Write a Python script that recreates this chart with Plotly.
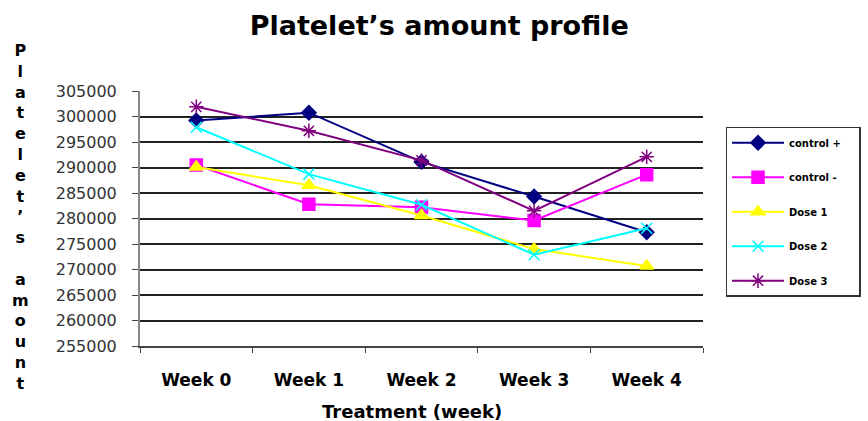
import plotly.graph_objects as go

categories = ["Week 0", "Week 1", "Week 2", "Week 3", "Week 4"]
control_pos = [299200, 300750, 291100, 284300, 277300]
control_neg = [290500, 282800, 282200, 279600, 288600]
dose1 = [290100, 286500, 280600, 274000, 270700]
dose2 = [297900, 288700, 282700, 272900, 278100]
dose3 = [301900, 297200, 291400, 281500, 292100]
y_ticks = list(range(255000, 305001, 5000))

series = [
    ("control +", control_pos, "#000080", "diamond", 11),
    ("control -", control_neg, "#FF00FF", "square", 12),
    ("Dose 1", dose1, "#FFFF00", "triangle-up", 12),
    ("Dose 2", dose2, "#00FFFF", "x-thin-open", 11),
    ("Dose 3", dose3, "#800080", "asterisk-open", 12),
]

BOLD = "DejaVu Sans"
PAD = "\u00a0" * 4

fig = go.Figure()
for i, (name, vals, color, sym, sz) in enumerate(series):
    fig.add_trace(go.Scatter(
        x=categories, y=vals, name="<b>" + name + "</b>" + PAD, mode="lines+markers",
        legendgroup=f"g{i}",
        line=dict(color=color, width=2),
        marker=dict(symbol=sym, size=sz, color=color,
                    line=dict(color=color, width=1.5)),
    ))

fig.update_layout(
    width=868, height=421,
    margin=dict(l=140, r=165, t=91, b=75, autoexpand=False),
    paper_bgcolor="white", plot_bgcolor="white",
    font=dict(family=BOLD, color="black"),
    title=dict(text="<b>Platelet’s amount profile</b>", x=0.506, xanchor="center",
               y=0.94, yanchor="middle", font=dict(size=27, family=BOLD)),
    showlegend=True,
    legend=dict(x=1.04, xanchor="left", y=0.86, yanchor="top",
                bordercolor="#333333", borderwidth=1.5,
                font=dict(size=10, family=BOLD), tracegroupgap=15.5,
                itemwidth=52),
    xaxis=dict(
        type="category", tickson="boundaries", ticks="outside", ticklen=5,
        tickcolor="#444444", showline=True, linecolor="#444444", linewidth=1.5,
        showgrid=False, tickfont=dict(size=17, family=BOLD, color="black"),
        tickprefix="<b>", ticksuffix="</b>", ticklabelstandoff=18,
        range=[-0.5, 4.5],
    ),
    yaxis=dict(
        range=[255000, 305000], tickvals=y_ticks,
        ticktext=[str(v) for v in y_ticks],
        ticks="outside", ticklen=6, tickcolor="#444444",
        showline=True, linecolor="#888888", linewidth=2,
        showgrid=True, gridcolor="#222222", gridwidth=1.5,
        tickfont=dict(size=16, family="DejaVu Sans", color="#333333"),
        ticklabelstandoff=12,
        zeroline=False,
    ),
)

# x-axis title
fig.add_annotation(
    text="<b>Treatment (week)</b>", xref="paper", yref="paper",
    x=(412 - 140) / 563, y=-(411 - 346) / 255, showarrow=False,
    font=dict(size=18, family=BOLD), xanchor="center", yanchor="middle",
)

letters = list("Platelet’s") + ["\u00a0"] + list("amount")
fig.add_annotation(
    text="<b>" + "<br>".join(letters) + "</b>",
    xref="paper", yref="paper", x=-0.213, y=(346 - 217) / 255,
    showarrow=False, font=dict(size=16, family=BOLD), align="center",
    xanchor="center", yanchor="middle",
)

fig.write_html("out.html")
